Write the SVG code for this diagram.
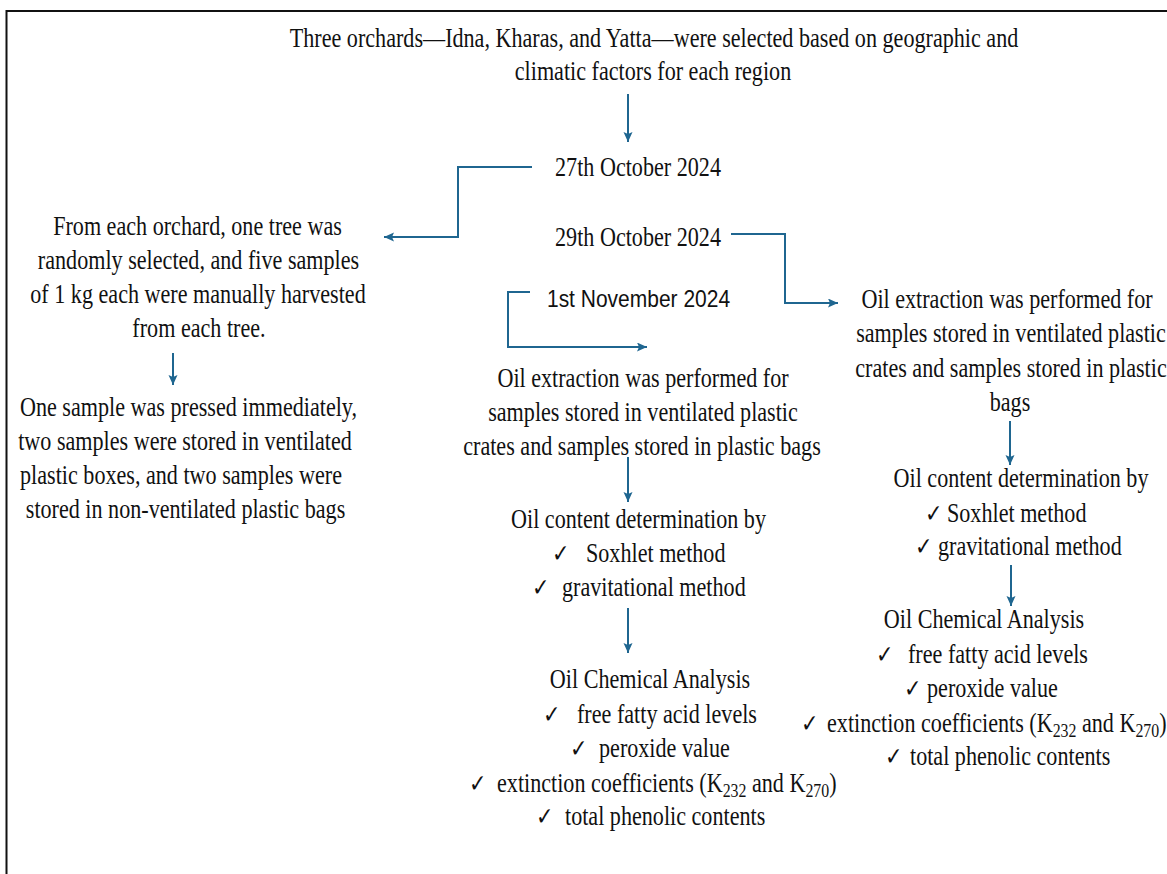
<svg xmlns="http://www.w3.org/2000/svg" width="1167" height="874" viewBox="0 0 1167 874">
<defs>
<marker id="ah" markerUnits="userSpaceOnUse" markerWidth="11" markerHeight="10" refX="10" refY="4.5" orient="auto">
<path d="M0,0 L10,4.5 L0,9 L2,4.5 z" fill="#1f6690"/>
</marker>
<style>
.t{font-family:"Liberation Serif","Times New Roman",serif;font-size:26.5px;fill:#111}
.s{font-family:"Liberation Sans",Arial,sans-serif;font-size:24.5px;fill:#111}
.c{font-family:"DejaVu Sans",sans-serif;font-size:25px;fill:#111}
.m{text-anchor:middle}
.sub{font-size:19px}
.conn path{fill:none;stroke:#1f6690;stroke-width:2;marker-end:url(#ah)}
</style>
</defs>
<rect x="6.5" y="11" width="1180" height="900" fill="#fff" stroke="#111" stroke-width="2"/>

<g class="conn" id="connectors">
<path d="M628,94 V142"/>
<path d="M532,167 H458 V237 H384"/>
<path d="M731,234 H785 V303 H838"/>
<path d="M530,292 H508 V347 H647"/>
<path d="M173,353 V385"/>
<path d="M628,457 V502"/>
<path d="M628,608 V653"/>
<path d="M1010,421 V465"/>
<path d="M1011,565 V606"/>
</g>

<g id="n-top">
<text class="t m" transform="translate(654,47) scale(0.835,1)">Three orchards—Idna, Kharas, and Yatta—were selected based on geographic and</text>
<text class="t m" transform="translate(653,80) scale(0.835,1)">climatic factors for each region</text>
</g>

<g id="n-27oct"><text class="t m" transform="translate(638,176) scale(0.835,1)">27th October 2024</text></g>
<g id="n-29oct"><text class="t m" transform="translate(638,246) scale(0.835,1)">29th October 2024</text></g>
<g id="n-1nov"><text class="s m" transform="translate(638.5,307) scale(0.857,1)">1st November 2024</text></g>

<g id="n-harvest">
<text class="t m" transform="translate(197.5,235) scale(0.835,1)">From each orchard, one tree was</text>
<text class="t m" transform="translate(198.5,269) scale(0.835,1)">randomly selected, and five samples</text>
<text class="t m" transform="translate(198,303) scale(0.835,1)">of 1 kg each were manually harvested</text>
<text class="t m" transform="translate(199,337) scale(0.835,1)">from each tree.</text>
</g>

<g id="n-storage">
<text class="t m" transform="translate(188.5,416) scale(0.835,1)">One sample was pressed immediately,</text>
<text class="t m" transform="translate(185,450) scale(0.835,1)">two samples were stored in ventilated</text>
<text class="t m" transform="translate(181,484) scale(0.835,1)">plastic boxes, and two samples were</text>
<text class="t m" transform="translate(185.5,518) scale(0.835,1)">stored in non-ventilated plastic bags</text>
</g>

<g id="n-extract-mid">
<text class="t m" transform="translate(643,387) scale(0.835,1)">Oil extraction was performed for</text>
<text class="t m" transform="translate(643,421) scale(0.835,1)">samples stored in ventilated plastic</text>
<text class="t m" transform="translate(642,455) scale(0.835,1)">crates and samples stored in plastic bags</text>
</g>

<g id="n-extract-right">
<text class="t m" transform="translate(1007,308) scale(0.835,1)">Oil extraction was performed for</text>
<text class="t m" transform="translate(1011,342) scale(0.835,1)">samples stored in ventilated plastic</text>
<text class="t m" transform="translate(1011,377) scale(0.835,1)">crates and samples stored in plastic</text>
<text class="t m" transform="translate(1010,411) scale(0.835,1)">bags</text>
</g>

<g id="n-content-mid">
<text class="t m" transform="translate(638.5,528) scale(0.835,1)">Oil content determination by</text>
<text class="c" transform="translate(552,562) scale(0.835,1)">✓</text>
<text class="t" transform="translate(586,562) scale(0.835,1)">Soxhlet method</text>
<text class="c" transform="translate(532,596) scale(0.835,1)">✓</text>
<text class="t" transform="translate(562,596) scale(0.835,1)">gravitational method</text>
</g>

<g id="n-chem-mid">
<text class="t m" transform="translate(650,688) scale(0.835,1)">Oil Chemical Analysis</text>
<text class="c" transform="translate(543,723) scale(0.835,1)">✓</text>
<text class="t" transform="translate(577,723) scale(0.835,1)">free fatty acid levels</text>
<text class="c" transform="translate(570,757) scale(0.835,1)">✓</text>
<text class="t" transform="translate(599,757) scale(0.835,1)">peroxide value</text>
<text class="c" transform="translate(469,792) scale(0.835,1)">✓</text>
<text class="t" transform="translate(497,792) scale(0.835,1)">extinction coefficients (K<tspan class="sub" dy="5">232</tspan><tspan dy="-5"> and K</tspan><tspan class="sub" dy="5">270</tspan><tspan dy="-5">)</tspan></text>
<text class="c" transform="translate(536,825) scale(0.835,1)">✓</text>
<text class="t" transform="translate(565,825) scale(0.835,1)">total phenolic contents</text>
</g>

<g id="n-content-right">
<text class="t m" transform="translate(1021,487) scale(0.835,1)">Oil content determination by</text>
<text class="c" transform="translate(925,522) scale(0.835,1)">✓</text>
<text class="t" transform="translate(947,522) scale(0.835,1)">Soxhlet method</text>
<text class="c" transform="translate(915,555) scale(0.835,1)">✓</text>
<text class="t" transform="translate(938,555) scale(0.835,1)">gravitational method</text>
</g>

<g id="n-chem-right">
<text class="t m" transform="translate(984,628) scale(0.835,1)">Oil Chemical Analysis</text>
<text class="c" transform="translate(876,663) scale(0.835,1)">✓</text>
<text class="t" transform="translate(908,663) scale(0.835,1)">free fatty acid levels</text>
<text class="c" transform="translate(904,697) scale(0.835,1)">✓</text>
<text class="t" transform="translate(927,697) scale(0.835,1)">peroxide value</text>
<text class="c" transform="translate(801,732) scale(0.835,1)">✓</text>
<text class="t" transform="translate(827,732) scale(0.835,1)">extinction coefficients (K<tspan class="sub" dy="5">232</tspan><tspan dy="-5"> and K</tspan><tspan class="sub" dy="5">270</tspan><tspan dy="-5">)</tspan></text>
<text class="c" transform="translate(885,765) scale(0.835,1)">✓</text>
<text class="t" transform="translate(910,765) scale(0.835,1)">total phenolic contents</text>
</g>
</svg>
